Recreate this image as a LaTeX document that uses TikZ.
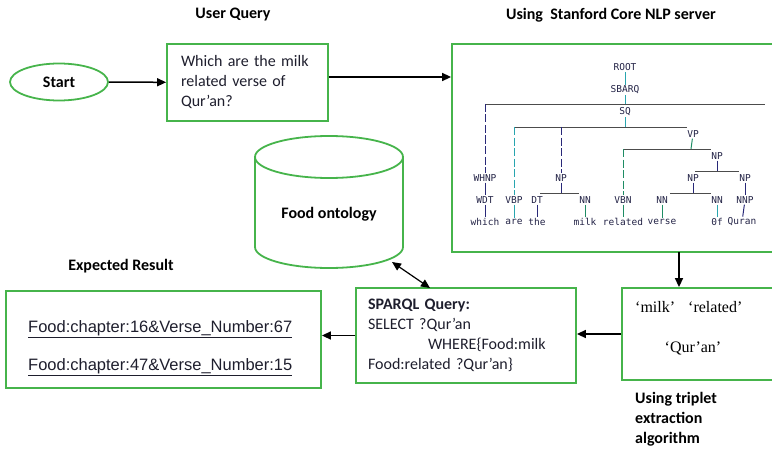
\documentclass[tikz,border=0pt]{standalone}
\usepackage{fontspec}
\setmainfont{Carlito}
\newfontfamily\serifT{Liberation Serif}
\newfontfamily\arialT{Liberation Sans}
\newfontfamily\monoT{DejaVu Sans Mono}
\usetikzlibrary{arrows.meta,calc,shapes.geometric}
\definecolor{gboxc}{RGB}{70,180,75}
\definecolor{textc}{RGB}{30,30,45}
\definecolor{treec}{RGB}{35,35,70}
\definecolor{navyc}{RGB}{40,40,120}
\definecolor{tealc}{RGB}{40,165,175}
\definecolor{greenc}{RGB}{30,140,100}
\tikzset{
  gbox/.style={draw=gboxc, line width=1.8pt},
  arr/.style={-{Triangle[length=9pt,width=8pt]}, line width=1.5pt},
  dblarr/.style={{Triangle[length=9pt,width=8pt]}-{Triangle[length=9pt,width=8pt]}, line width=1.2pt},
  lbl/.style={font=\fontsize{16}{20}\selectfont\bfseries, text=black},
  tl/.style={font=\monoT\fontsize{9.5}{11}\selectfont, text=treec, inner sep=1pt},
  hl/.style={draw=gray!60!black, line width=0.9pt},
  vl/.style={line width=1pt, dash pattern=on 8pt off 2.5pt},
  sl/.style={line width=1pt},
}
\begin{document}
\begin{tikzpicture}[x=1pt,y=-1pt]
\useasboundingbox (0,0) rectangle (772,452);

% titles
\node[lbl] (lq) at (233,15) {User Query};
\node[lbl] (lnlp) at (611,15) {Using~ Stanford Core NLP server};
\node[lbl] (lres) at (121,266) {Expected Result};
\node[lbl, anchor=north west, align=left, inner sep=0pt] (ltrip) at (635,392) {Using triplet\\extraction\\algorithm};

% start and query
\node[gbox, ellipse, minimum width=98pt, minimum height=37pt, inner sep=0pt, lbl] (start) at (59,82) {Start};
\node[gbox, minimum width=161pt, minimum height=77pt, text width=133pt, inner xsep=14pt, align=left,
      font=\fontsize{16}{20}\selectfont, text=textc] (query) at (247.5,82.5) {Which are the milk\\related verse of\\Qur’an?};

% parse box
\node[gbox, minimum width=328pt, minimum height=208pt] (parse) at (616,148) {};

% tree labels
\node[tl] (root) at (625,67) {ROOT};
\node[tl] (sbarq) at (625,90) {SBARQ};
\node[tl] (sq) at (625,112) {SQ};
\node[tl] (vp) at (693,134) {VP};
\node[tl] (npb) at (717,156) {NP};
\node[tl] (whnp) at (485,178) {WHNP};
\node[tl] (npa) at (561,178) {NP};
\node[tl] (npc) at (693,178) {NP};
\node[tl] (npd) at (745,178) {NP};
\node[tl] (wdt) at (485,200) {WDT};
\node[tl] (vbp) at (514,200) {VBP};
\node[tl] (dt) at (537,200) {DT};
\node[tl] (nna) at (585,200) {NN};
\node[tl] (vbn) at (623,200) {VBN};
\node[tl] (nnb) at (662,200) {NN};
\node[tl] (nnc) at (717,200) {NN};
\node[tl] (nnp) at (745,200) {NNP};
\node[tl] (w1) at (485,222) {which};
\node[tl] (w2) at (514,222) {are};
\node[tl] (w3) at (537,222) {the};
\node[tl] (w4) at (585,222) {milk};
\node[tl] (w5) at (623,222) {related};
\node[tl] (w6) at (662,222) {verse};
\node[tl] (w7) at (717,222) {0f};
\node[tl] (w8) at (742,222) {Quran};

% tree bars
\coordinate (b1) at (625,104); \coordinate (b1r) at (765,104);
\coordinate (b2) at (625,127); \coordinate (b2r) at (687,127);
\coordinate (b3) at (691,149); \coordinate (b3r) at (711,149);
\coordinate (b4) at (717,171); \coordinate (b4l) at (695,171); \coordinate (b4r) at (739,171);
\coordinate (b5) at (693,193); \coordinate (b5l) at (670,193); \coordinate (b5r) at (711,193);
\coordinate (b6) at (561,193); \coordinate (b6l) at (540,193); \coordinate (b6r) at (579,193);

\draw[sl, tealc] (root) -- (sbarq);
\draw[sl, tealc] (sbarq) -- (b1);
\draw[hl] (b1 -| whnp) -- (b1r);
\draw[vl, navyc] (b1 -| whnp) -- (whnp);
\draw[sl, tealc] (sq) -- (b2);
\draw[hl] (b2 -| vbp) -- (b2r);
\draw[vl, tealc] (b2 -| vbp) -- (vbp);
\draw[vl, navyc] (b2 -| npa) -- (npa);
\draw[sl, greenc] (vp) -- (b3);
\draw[hl] (b3 -| vbn) -- (b3r);
\draw[vl, greenc] (b3 -| vbn) -- (vbn);
\draw[sl, navyc] (npb) -- (b4);
\draw[hl] (b4l) -- (b4r);
\draw[sl, navyc] (npc) -- (b5);
\draw[hl] (b5l) -- (b5r);
\draw[sl, navyc] (npa) -- (b6);
\draw[hl] (b6l) -- (b6r);
\draw[sl, navyc] (whnp) -- (wdt);
\draw[sl, navyc] (npd) -- (nnp);
\draw[sl, navyc] (wdt) -- (w1);
\draw[sl, tealc] (vbp) -- (w2);
\draw[sl, navyc] (dt) -- (w3);
\draw[sl, greenc] (nna) -- (w4);
\draw[sl, greenc] (vbn) -- (w5);
\draw[sl, greenc] (nnb) -- (w6);
\draw[sl, tealc] (nnc) -- (w7);
\draw[sl, navyc] (nnp) -- (w8);

% ontology cylinder
\draw[gbox] (329,157) ellipse [x radius=74pt, y radius=21pt];
\draw[gbox] (255,157) -- (255,247) arc[start angle=180, end angle=360, x radius=74pt, y radius=21pt] -- (403,157);
\node[lbl] (onto) at (329,214) {Food ontology};

% sparql box
\node[gbox, minimum width=220pt, minimum height=95pt, text width=196pt, inner xsep=12pt, align=left,
      font=\fontsize{16}{20}\selectfont, text=textc] (sparql) at (466,335.5)
  {\textbf{SPARQL Query:}\\SELECT ?Qur’an\\\hspace*{60pt}WHERE\{Food:milk\\Food:related ?Qur’an\}};

% triplet box
\node[gbox, minimum width=168pt, minimum height=92pt] (trip) at (706,334) {};
\node[font=\serifT\fontsize{16}{20}\selectfont, anchor=west, inner sep=0pt, text=black] (tmilk) at (635,307) {‘milk’};
\node[font=\serifT\fontsize{16}{20}\selectfont, anchor=west, inner sep=0pt, text=black] (trel) at (688,307) {‘related’};
\node[font=\serifT\fontsize{16}{20}\selectfont, inner sep=0pt, text=black] (tqur) at (693,348) {‘Qur’an’};

% result box
\node[gbox, minimum width=315pt, minimum height=97pt] (result) at (163.5,339.5) {};
\node[font=\arialT\fontsize{16.5}{20}\selectfont, anchor=west, inner sep=0pt, text=textc] (r1) at (28,329) {\underline{Food:chapter:16\&Verse\_Number:67}};
\node[font=\arialT\fontsize{16.5}{20}\selectfont, anchor=west, inner sep=0pt, text=textc] (r2) at (28,367) {\underline{Food:chapter:47\&Verse\_Number:15}};

% connectors
\draw[arr] (start) -- (query);
\draw[arr] ([yshift=5.5pt]query.east) -- ([yshift=5.5pt]query.east -| parse.west);
\coordinate (pdown) at (679,252);
\draw[arr] (pdown) -- (pdown |- trip.north);
\draw[arr] (trip.west) -- (trip.west -| sparql.east);
\draw[arr] (sparql.west) -- (sparql.west -| result.east);
\coordinate (ontoA) at (392,262);
\coordinate (spA) at (430,288);
\draw[dblarr] (ontoA) -- (spA);
\end{tikzpicture}
\end{document}
